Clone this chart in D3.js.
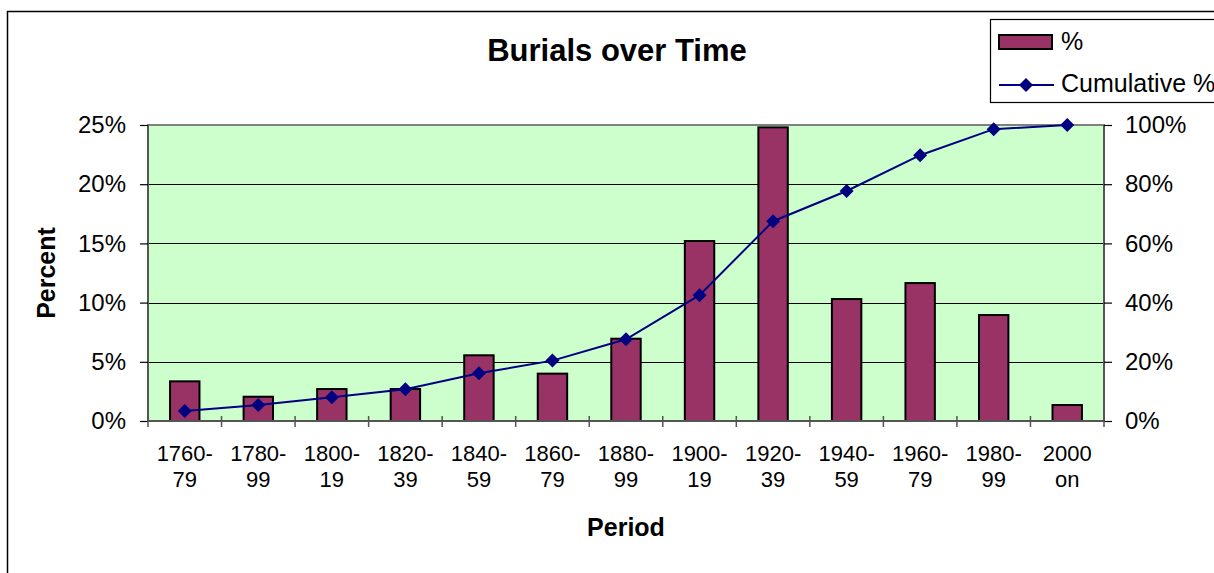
<!DOCTYPE html>
<html lang="en">
<head>
  <meta charset="utf-8">
  <script src="https://d3js.org/d3.v7.min.js"></script>
  <style>
    body { margin: 0; background: #fff; font-family: Arial, 'Liberation Sans', sans-serif; }
    .tick-label { font-size: 24px; fill: #000; }
    .x-label { font-size: 22px; fill: #000; }
    .axis-title { font-size: 25px; font-weight: bold; fill: #000; }
    .title { font-size: 31px; font-weight: bold; fill: #000; }
    .legend-text { font-size: 25px; fill: #000; }
  </style>
</head>
<body>
  <svg id="chart" width="1214" height="573"></svg>
  <script>
    // values
    const periods = ["1760-79", "1780-99", "1800-19", "1820-39", "1840-59", "1860-79",
                     "1880-99", "1900-19", "1920-39", "1940-59", "1960-79", "1980-99", "2000 on"];
    const percent = [3.35, 2.05, 2.7, 2.7, 5.55, 4.0, 6.95, 15.2, 24.8, 10.3, 11.65, 8.95, 1.35];
    const cumulative = [3.4, 5.4, 8.0, 10.7, 16.1, 20.4, 27.6, 42.5, 67.5, 77.7, 89.8, 98.6, 100];
    const leftTicks = [0, 5, 10, 15, 20, 25];
    const rightTicks = [0, 20, 40, 60, 80, 100];

    const svg = d3.select("#chart");
    const plot = {left: 148, right: 1104, top: 125, bottom: 421};

    const x = d3.scaleBand().domain(periods)
                .range([plot.left, plot.right])
                .paddingInner(0.6).paddingOuter(0.3);
    const xEdge = d3.scaleBand().domain(periods).range([plot.left, plot.right]).padding(0);
    const yL = d3.scaleLinear().domain([0, 25]).range([plot.bottom, plot.top]);
    const yR = d3.scaleLinear().domain([0, 100]).range([plot.bottom, plot.top]);

    // outer chart frame
    svg.append("path")
       .attr("d", "M1300,11.5 H7.5 V600")
       .attr("fill", "none").attr("stroke", "#000").attr("stroke-width", 1.5);

    // title
    svg.append("text").attr("class", "title")
       .attr("x", 617).attr("y", 61).attr("text-anchor", "middle")
       .text("Burials over Time");

    // plot area
    svg.append("rect")
       .attr("x", plot.left).attr("y", plot.top)
       .attr("width", plot.right - plot.left).attr("height", plot.bottom - plot.top)
       .attr("fill", "#ccffcc").attr("stroke", "#808080").attr("stroke-width", 2);

    // gridlines
    svg.append("g")
       .selectAll("line")
       .data(leftTicks.slice(1, -1))
       .join("line")
       .attr("x1", plot.left).attr("x2", plot.right)
       .attr("y1", d => Math.round(yL(d)) + 0.5).attr("y2", d => Math.round(yL(d)) + 0.5)
       .attr("stroke", "#000").attr("stroke-width", 1);

    // bars
    svg.append("g")
       .selectAll("rect")
       .data(periods)
       .join("rect")
       .attr("x", d => x(d))
       .attr("y", (d, i) => yL(percent[i]))
       .attr("width", x.bandwidth())
       .attr("height", (d, i) => plot.bottom - yL(percent[i]))
       .attr("fill", "#993366")
       .attr("stroke", "#000").attr("stroke-width", 2);

    // axes lines
    const axisColor = "#555";
    svg.append("line").attr("x1", plot.left).attr("x2", plot.left)
       .attr("y1", plot.top).attr("y2", plot.bottom)
       .attr("stroke", axisColor).attr("stroke-width", 2);
    svg.append("line").attr("x1", plot.right).attr("x2", plot.right)
       .attr("y1", plot.top).attr("y2", plot.bottom)
       .attr("stroke", axisColor).attr("stroke-width", 2);
    svg.append("line").attr("x1", plot.left).attr("x2", plot.right)
       .attr("y1", plot.bottom).attr("y2", plot.bottom)
       .attr("stroke", axisColor).attr("stroke-width", 2);

    // left axis
    const leftAxis = svg.append("g")
       .attr("transform", `translate(${plot.left},0)`)
       .call(d3.axisLeft(yL).tickValues(leftTicks).tickSize(8).tickPadding(14)
               .tickFormat(d => d + "%"));
    leftAxis.select(".domain").remove();
    leftAxis.selectAll("line").attr("stroke", "#000").attr("stroke-width", 1.2);
    leftAxis.selectAll("text").attr("class", "tick-label").attr("font-family", null).attr("font-size", null);

    // right axis
    const rightAxis = svg.append("g")
       .attr("transform", `translate(${plot.right},0)`)
       .call(d3.axisRight(yR).tickValues(rightTicks).tickSize(8).tickPadding(13)
               .tickFormat(d => d + "%"));
    rightAxis.select(".domain").remove();
    rightAxis.selectAll("line").attr("stroke", "#000").attr("stroke-width", 1.2);
    rightAxis.selectAll("text").attr("class", "tick-label").attr("font-family", null).attr("font-size", null);

    // bottom ticks at category edges
    const edges = periods.map(p => xEdge(p)).concat([plot.right]);
    svg.append("g")
       .selectAll("line")
       .data(edges)
       .join("line")
       .attr("x1", d => d).attr("x2", d => d)
       .attr("y1", plot.bottom - 5).attr("y2", plot.bottom + 6)
       .attr("stroke", axisColor).attr("stroke-width", 1.5);

    // category labels, two lines each
    const labels = svg.append("g")
       .selectAll("text")
       .data(periods)
       .join("text")
       .attr("class", "x-label")
       .attr("text-anchor", "middle")
       .attr("transform", d => `translate(${x(d) + x.bandwidth() / 2},0)`);
    labels.each(function(d) {
      const m = d.match(/^(.*?[- ])(.*)$/);
      const t = d3.select(this);
      t.append("tspan").attr("x", 0).attr("y", 461).text(m[1].trim() === m[1] ? m[1] : m[1].trim());
      t.append("tspan").attr("x", 0).attr("y", 487).text(m[2]);
    });

    // cumulative line
    const cx = d => x(d) + x.bandwidth() / 2;
    const line = d3.line().x((d, i) => cx(periods[i])).y(d => yR(d));
    svg.append("path")
       .datum(cumulative)
       .attr("d", line)
       .attr("fill", "none").attr("stroke", "#000080").attr("stroke-width", 2);
    const diamond = "M0,-7L7,0L0,7L-7,0Z";
    svg.append("g")
       .selectAll("path")
       .data(cumulative)
       .join("path")
       .attr("d", diamond)
       .attr("transform", (d, i) => `translate(${cx(periods[i])},${yR(d)})`)
       .attr("fill", "#000080");

    // axis titles
    svg.append("text").attr("class", "axis-title")
       .attr("transform", `translate(55,${(plot.top + plot.bottom) / 2}) rotate(-90)`)
       .attr("text-anchor", "middle")
       .text("Percent");
    svg.append("text").attr("class", "axis-title")
       .attr("x", (plot.left + plot.right) / 2).attr("y", 536)
       .attr("text-anchor", "middle")
       .text("Period");

    // legend
    const legend = svg.append("g");
    legend.append("rect")
       .attr("x", 990.5).attr("y", 19.5).attr("width", 300).attr("height", 83)
       .attr("fill", "#fff").attr("stroke", "#000").attr("stroke-width", 1.2);
    legend.append("rect")
       .attr("x", 999).attr("y", 35).attr("width", 53).attr("height", 14)
       .attr("fill", "#993366").attr("stroke", "#000").attr("stroke-width", 2);
    legend.append("text").attr("class", "legend-text")
       .attr("x", 1061).attr("y", 50).text("%");
    legend.append("line")
       .attr("x1", 999).attr("x2", 1054).attr("y1", 85).attr("y2", 85)
       .attr("stroke", "#000080").attr("stroke-width", 2);
    legend.append("path")
       .attr("d", diamond).attr("transform", "translate(1026,85)")
       .attr("fill", "#000080");
    legend.append("text").attr("class", "legend-text")
       .attr("x", 1061).attr("y", 92).text("Cumulative %");
  </script>
</body>
</html>
